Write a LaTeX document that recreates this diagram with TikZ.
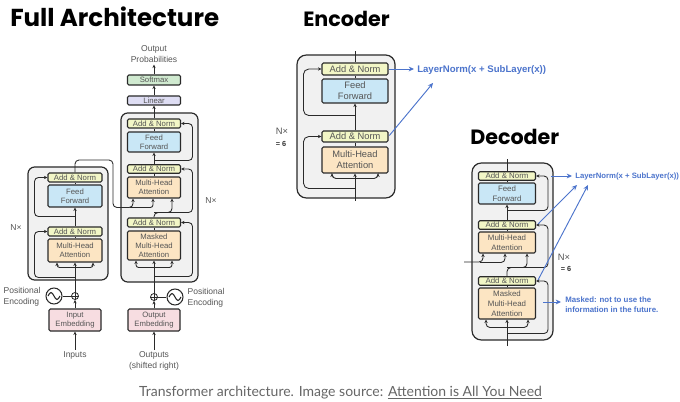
\documentclass[tikz,border=0pt]{standalone}
\usepackage{fontspec}
\setmainfont{Liberation Sans}
\newfontfamily\titlefont{Poppins}
\newfontfamily\capfont{Lato}
\usetikzlibrary{arrows.meta,calc}
\definecolor{linegray}{HTML}{2A2A2A}
\definecolor{blkgray}{HTML}{F1F1F1}
\definecolor{txtgray}{HTML}{555555}
\definecolor{anfill}{HTML}{F2F6C6}
\definecolor{fffill}{HTML}{C9E7F6}
\definecolor{mhafill}{HTML}{FCE5C3}
\definecolor{linfill}{HTML}{DEDDF3}
\definecolor{softfill}{HTML}{D0EAD0}
\definecolor{embfill}{HTML}{F7DDE1}
\definecolor{noteblue}{HTML}{4C74CC}
\definecolor{capgray}{HTML}{666666}
\newcommand{\fa}{\fontsize{5.8}{6.8}\selectfont}
\newcommand{\fb}{\fontsize{7}{8.4}\selectfont}
\newcommand{\fc}{\fontsize{5.9}{7.4}\selectfont}
\newcommand{\fd}{\fontsize{6.4}{8.2}\selectfont}

\begin{document}
\begin{tikzpicture}[x=0.75pt,y=-0.75pt,
    conn/.style={draw=linegray, line width=0.65pt},
    arr/.style={conn, -{Stealth[length=2.6pt,width=2.4pt]}},
    barr/.style={draw=noteblue, line width=0.7pt, -{Stealth[length=4pt,width=3.6pt]}},
    blk/.style={draw=linegray, line width=0.9pt, fill=blkgray, rounded corners=5pt},
    box/.style={draw=linegray, line width=0.8pt, rounded corners=1pt, inner sep=0pt, align=center, text=txtgray},
    sz/.style 2 args={minimum width=#1*0.75pt, minimum height=#2*0.75pt},
    an/.style={box, fill=anfill},
    ff/.style={box, fill=fffill},
    mha/.style={box, fill=mhafill},
    lbl/.style={text=txtgray, inner sep=1pt, align=center},
    note/.style={text=noteblue, inner sep=0pt, align=left, anchor=west, font=\bfseries\fc},
    ttl/.style={anchor=base west, inner sep=0pt, font=\titlefont\bfseries\fontsize{15.5}{18}\selectfont}]

    \fill[white] (0,0) rectangle (680,402);
    \useasboundingbox (0,0) rectangle (680,402);

    % titles
    \node[ttl, font=\titlefont\bfseries\fontsize{18.4}{22}\selectfont] (tFull) at (10,27) {Full Architecture};
    \node[ttl] (tEnc) at (303,27) {Encoder};
    \node[ttl] (tDec) at (470,145) {Decoder};

    %%%% full architecture
    \draw[blk] (28,167) rectangle (108,280);
    \draw[blk] (121,113) rectangle (198,282);

    \node[an, sz={54}{9}, font=\fa] (eAN2) at (75,177.5) {Add \& Norm};
    \node[ff, sz={54}{22}, font=\fa] (eFF) at (75,196) {Feed\\Forward};
    \node[an, sz={54}{9}, font=\fa] (eAN1) at (75,231.5) {Add \& Norm};
    \node[mha, sz={54}{23}, font=\fa] (eMHA) at (75,250.5) {Multi-Head\\Attention};
    \node[box, fill=embfill, sz={52}{22}, font=\fa] (eEmb) at (75,320) {Input\\Embedding};
    \node[circle, draw=linegray, line width=0.6pt, inner sep=0pt, minimum size=7*0.75pt] (ePlus) at (75,296) {};
    \node[circle, draw=linegray, line width=0.8pt, inner sep=0pt, minimum size=16*0.75pt] (eSin) at (54,296) {};
    \node[lbl, font=\fd] (eInText) at (75,355) {Inputs};
    \node[lbl, font=\fd, anchor=west, align=left] (ePos) at (2,296.5) {Positional\\Encoding};
    \node[lbl, font=\fd] (eN) at (16,228) {N×};

    \node[an, sz={53}{9}, font=\fa] (dAN3) at (154,123.5) {Add \& Norm};
    \node[ff, sz={53}{20}, font=\fa] (dFF) at (154,142) {Feed\\Forward};
    \node[an, sz={53}{8.5}, font=\fa] (dAN2) at (154,169) {Add \& Norm};
    \node[mha, sz={53}{21}, font=\fa] (dMHA) at (154,187.5) {Multi-Head\\Attention};
    \node[an, sz={53}{9}, font=\fa] (dAN1) at (154,222.5) {Add \& Norm};
    \node[mha, sz={53}{29}, font=\fa] (dMMHA) at (154,245.5) {Masked\\Multi-Head\\Attention};
    \node[box, fill=linfill, sz={53}{9}, font=\fa] (lin) at (154,100.5) {Linear};
    \node[box, fill=softfill, sz={53}{10}, font=\fa] (soft) at (154,80) {Softmax};
    \node[lbl, font=\fd] (outprob) at (154,54.5) {Output\\Probabilities};
    \node[box, fill=embfill, sz={52}{22}, font=\fa] (dEmb) at (154,320) {Output\\Embedding};
    \node[circle, draw=linegray, line width=0.6pt, inner sep=0pt, minimum size=7*0.75pt] (dPlus) at (154,297) {};
    \node[circle, draw=linegray, line width=0.8pt, inner sep=0pt, minimum size=16*0.75pt] (dSin) at (175,297) {};
    \node[lbl, font=\fd] (dOutText) at (154,360.5) {Outputs\\(shifted right)};
    \node[lbl, font=\fd, anchor=west, align=left] (dPos) at (186,298) {Positional\\Encoding};
    \node[lbl, font=\fd] (dN) at (211,201) {N×};

    % plus signs and waves
    \foreach \p in {ePlus,dPlus}{
        \draw[conn] (\p.north) -- (\p.south) (\p.west) -- (\p.east);
    }
    \foreach \s in {eSin,dSin}{
        \draw[conn, line width=0.8pt] ($(\s.center)+(-6,0)$) sin ++(3,-3.5) cos ++(3,3.5) sin ++(3,3.5) cos ++(3,-3.5);
    }

    % encoder side
    \draw[arr] (eInText.north) -- (eEmb.south);
    \draw[arr] (eEmb.north) -- (ePlus.south);
    \draw[conn] (eSin.east) -- (ePlus.west);
    \draw[arr] (ePlus.north) -- (eMHA.south);
    \draw[arr, rounded corners=2pt] ($(eMHA.south)+(0,5)$) -| ($(eMHA.south)+(-18,0)$);
    \draw[arr, rounded corners=2pt] ($(eMHA.south)+(0,5)$) -| ($(eMHA.south)+(18,0)$);
    \draw[arr, rounded corners=3pt] ($(eMHA.south)+(0,15)$) -| ($(eAN1.west)+(-13,0)$) -- (eAN1.west);
    \draw[conn] (eMHA.north) -- (eAN1.south);
    \draw[arr] (eAN1.north) -- (eFF.south);
    \draw[arr, rounded corners=3pt] ($(eFF.south)+(0,9)$) -| ($(eAN2.west)+(-13,0)$) -- (eAN2.west);
    \draw[conn] (eFF.north) -- (eAN2.south);
    \draw[arr, rounded corners=3pt] (eAN2.north) |- (113,160) |- ($(dMHA.south)+(-21,9)$) -- ($(dMHA.south)+(-21,0)$);
    \draw[arr, rounded corners=2pt] ($(dMHA.south)+(-24,9)$) -| ($(dMHA.south)+(-1,0)$);

    % decoder side
    \draw[arr] (dOutText.north) -- (dEmb.south);
    \draw[arr] (dEmb.north) -- (dPlus.south);
    \draw[conn] (dSin.west) -- (dPlus.east);
    \draw[arr] (dPlus.north) -- (dMMHA.south);
    \draw[arr, rounded corners=2pt] ($(dMMHA.south)+(0,7)$) -| ($(dMMHA.south)+(-18,0)$);
    \draw[arr, rounded corners=2pt] ($(dMMHA.south)+(0,7)$) -| ($(dMMHA.south)+(18,0)$);
    \draw[arr, rounded corners=3pt] ($(dMMHA.south)+(0,16)$) -| ($(dAN1.east)+(11.5,0)$) -- (dAN1.east);
    \draw[conn] (dMMHA.north) -- (dAN1.south);
    \draw[arr, rounded corners=3pt] (dAN1.north) |- ($(dMHA.south)+(18,14)$) -- ($(dMHA.south)+(18,0)$);
    \draw[arr, rounded corners=3pt] ($(dMHA.south)+(0,14)$) -| ($(dAN2.east)+(11.5,0)$) -- (dAN2.east);
    \draw[conn] (dMHA.north) -- (dAN2.south);
    \draw[arr] (dAN2.north) -- (dFF.south);
    \draw[arr, rounded corners=3pt] ($(dFF.south)+(0,8)$) -| ($(dAN3.east)+(11.5,0)$) -- (dAN3.east);
    \draw[conn] (dFF.north) -- (dAN3.south);
    \draw[arr] (dAN3.north) -- (lin.south);
    \draw[arr] (lin.north) -- (soft.south);
    \draw[arr] (soft.north) -- (outprob.south);

    %%%% encoder detail
    \draw[blk, rounded corners=7pt] (297,55) rectangle (395,198);
    \node[an, sz={66}{12}, font=\fb] (xAN2) at (355,69) {Add \& Norm};
    \node[ff, sz={66}{24}, font=\fb] (xFF) at (355,91) {Feed\\Forward};
    \node[an, sz={66}{11}, font=\fb] (xAN1) at (355,136.5) {Add \& Norm};
    \node[mha, sz={66}{26}, font=\fb] (xMHA) at (355,160) {Multi-Head\\Attention};
    \coordinate (xBot) at (355,201);
    \coordinate (xTop) at (355,51);
    \node[lbl, font=\fb] (xN) at (282,131) {N×};
    \node[lbl, font=\bfseries\fontsize{5.5}{6}\selectfont, text=black!80] (xN6) at (281,144) {= 6};

    \draw[arr] (xBot) -- (xMHA.south);
    \draw[arr, rounded corners=3pt] ($(xMHA.south)+(0,5)$) -| ($(xMHA.south)+(-23,0)$);
    \draw[arr, rounded corners=3pt] ($(xMHA.south)+(0,5)$) -| ($(xMHA.south)+(23,0)$);
    \draw[arr, rounded corners=4pt] ($(xMHA.south)+(0,15)$) -| ($(xAN1.west)+(-18,0)$) -- (xAN1.west);
    \draw[conn] (xMHA.north) -- (xAN1.south);
    \draw[arr] (xAN1.north) -- (xFF.south);
    \draw[arr, rounded corners=4pt] ($(xFF.south)+(0,12)$) -| ($(xAN2.west)+(-18,0)$) -- (xAN2.west);
    \draw[conn] (xFF.north) -- (xAN2.south);
    \draw[conn] (xAN2.north) -- (xTop);

    \node[note, font=\bfseries\fontsize{7.2}{8}\selectfont] (xLN) at (417,70) {LayerNorm(x + SubLayer(x))};
    \coordinate (xLNtip) at (433,83);
    \draw[barr] (xAN2.east) -- ($(xLN.west)+(-3,-1)$);
    \draw[barr, shorten <=1pt] (xAN1.east) -- (xLNtip);

    %%%% decoder detail
    \draw[blk, rounded corners=7pt] (472,163) rectangle (553,340);
    \node[an, sz={57}{8.5}, font=\fc] (yAN3) at (507,176) {Add \& Norm};
    \node[ff, sz={57}{21}, font=\fc] (yFF) at (507,193.5) {Feed\\Forward};
    \node[an, sz={57}{8.5}, font=\fc] (yAN2) at (507,225) {Add \& Norm};
    \node[mha, sz={57}{21}, font=\fc] (yMHA) at (507,242.5) {Multi-Head\\Attention};
    \node[an, sz={57}{8.5}, font=\fc] (yAN1) at (507,281) {Add \& Norm};
    \node[mha, sz={57}{31}, font=\fc] (yMMHA) at (507,303.5) {Masked\\Multi-Head\\Attention};
    \coordinate (yBot) at (507,346);
    \coordinate (yTop) at (507,159);
    \coordinate (yEnc) at (464,262);
    \node[lbl, font=\fb] (yN) at (564,257) {N×};
    \node[lbl, font=\bfseries\fontsize{5.5}{6}\selectfont, text=black!80] (yN6) at (566,269) {= 6};

    \draw[arr] (yBot) -- (yMMHA.south);
    \draw[arr, rounded corners=3pt] ($(yMMHA.south)+(0,8)$) -| ($(yMMHA.south)+(-21,0)$);
    \draw[arr, rounded corners=3pt] ($(yMMHA.south)+(0,8)$) -| ($(yMMHA.south)+(21,0)$);
    \draw[arr, rounded corners=3pt] ($(yMMHA.south)+(0,14)$) -| ($(yAN1.east)+(12,0)$) -- (yAN1.east);
    \draw[conn] (yMMHA.north) -- (yAN1.south);
    \draw[arr, rounded corners=3pt] (yAN1.north) |- ($(yMHA.south)+(20,14)$) -- ($(yMHA.south)+(20,0)$);
    \draw[arr, rounded corners=3pt] ($(yMHA.south)+(0,14)$) -| ($(yAN2.east)+(12,0)$) -- (yAN2.east);
    \draw[arr, rounded corners=3pt] (yEnc) -| ($(yMHA.south)+(-24,0)$);
    \draw[arr, rounded corners=3pt] ($(yMHA.south)+(-27,9)$) -| ($(yMHA.south)+(-2,0)$);
    \draw[conn] (yMHA.north) -- (yAN2.south);
    \draw[arr] (yAN2.north) -- (yFF.south);
    \draw[arr, rounded corners=3pt] ($(yFF.south)+(0,6)$) -| ($(yAN3.east)+(12,0)$) -- (yAN3.east);
    \draw[conn] (yFF.north) -- (yAN3.south);
    \draw[conn] (yAN3.north) -- (yTop);

    \node[note, font=\bfseries\fontsize{5.8}{7}\selectfont] (yLN) at (575,176.5) {LayerNorm(x + SubLayer(x))};
    \coordinate (yLNtip1) at (577,185);
    \coordinate (yLNtip2) at (588,185);
    \draw[barr] ($(yAN3.east)+(15,0)$) -- ($(yLN.west)+(-3,-0.5)$);
    \draw[barr] ($(yAN2.east)+(2,-1)$) -- (yLNtip1);
    \draw[barr] ($(yAN1.east)+(2,-1)$) -- (yLNtip2);
    \node[note, font=\bfseries\fontsize{5.9}{7.5}\selectfont] (yMask) at (565,305) {Masked: not to use the\\information in the future.};
    \draw[barr] ($(yMMHA.east)+(7,-1.5)$) -- ($(yMask.west)+(-4,-3)$);

    % caption
    \node[font=\capfont\fontsize{10.5}{12}\selectfont, text=capgray, inner sep=0pt] (cap) at (340.5,393)
        {Transformer architecture. Image source: \underline{Attention is All You Need}};
\end{tikzpicture}
\end{document}
